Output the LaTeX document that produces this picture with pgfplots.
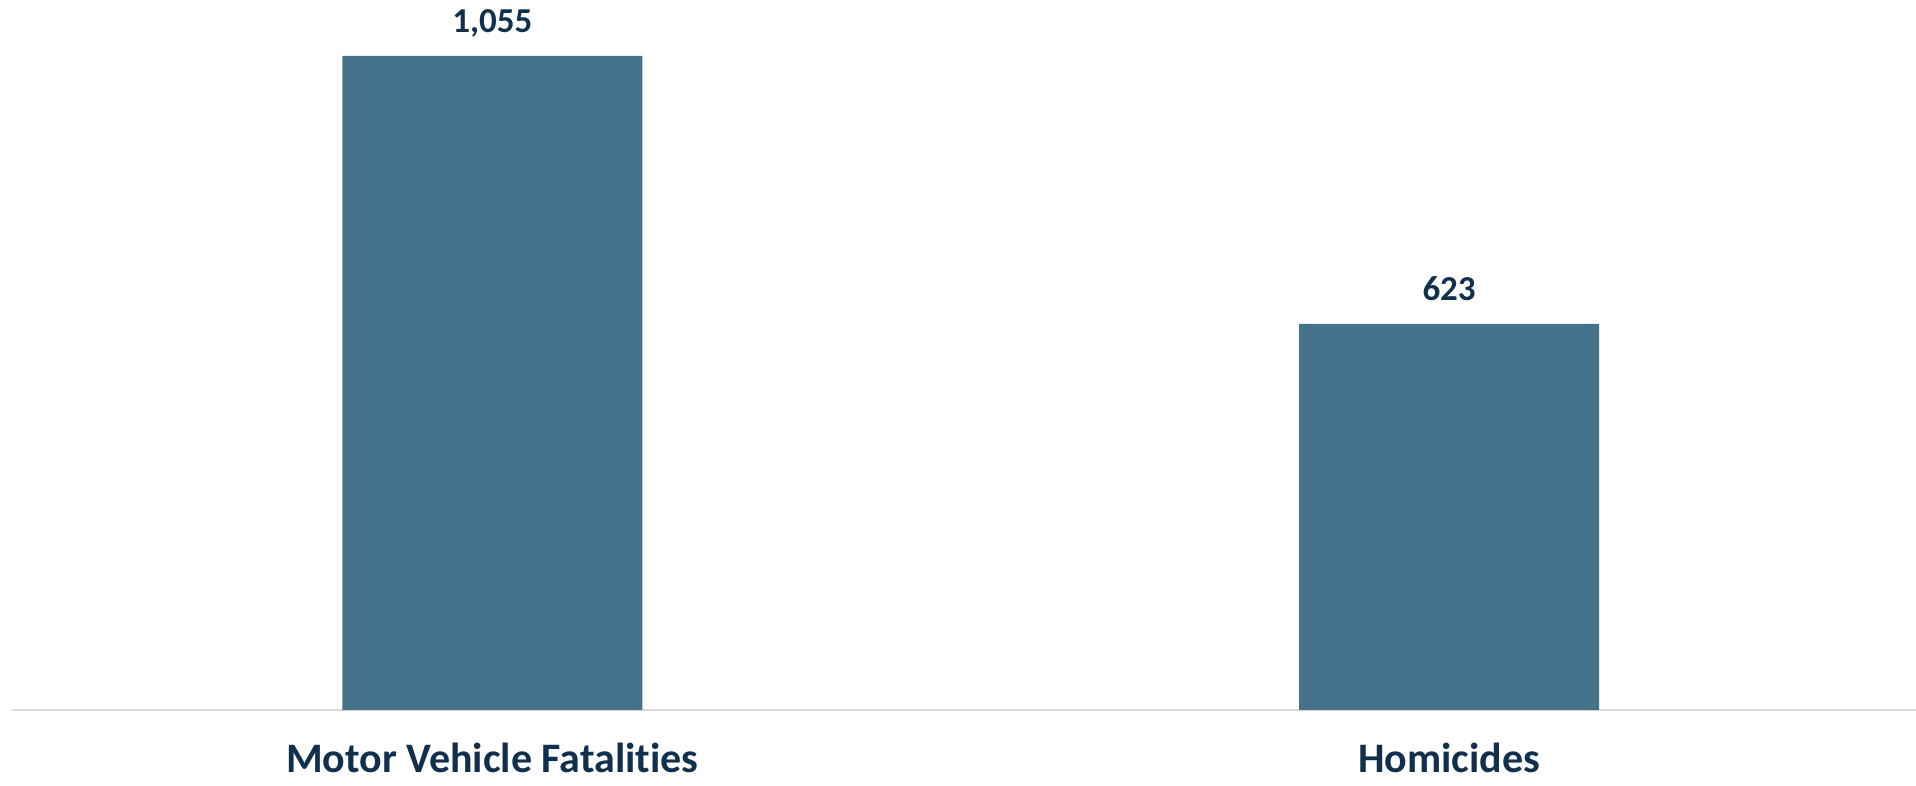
\documentclass[border=0pt]{standalone}
\usepackage{fontspec}
\setmainfont{Carlito}[RawFeature={-liga}]
\usepackage{pgfplots}
\pgfplotsset{compat=1.18}
\definecolor{barcol}{HTML}{44738B}
\definecolor{txtcol}{HTML}{10304E}
\definecolor{axcol}{HTML}{D9D9D9}

\begin{document}
\begin{tikzpicture}
\begin{axis}[
  scale only axis, width=952pt, height=355pt,
  xmin=-0.502, xmax=1.488, ymin=0, ymax=1145.3,
  hide y axis, axis x line*=bottom,
  x axis line style={draw=axcol, line width=1pt},
  xtick={0,1}, xticklabels={Motor Vehicle Fatalities, Homicides},
  major tick length=0pt,
  xticklabel style={anchor=base, inner sep=0pt, yshift=-31.5pt, text=txtcol,
    font=\fontsize{21}{24}\selectfont\bfseries},
  /pgf/number format/assume math mode=true,
  /pgf/number format/1000 sep={,},
  nodes near coords,
  every node near coord/.append style={anchor=base, yshift=11.5pt, text=txtcol,
    font=\fontsize{17.5}{20}\selectfont\bfseries},
]
\addplot[ybar, bar width=0.3135, fill=barcol, draw=none] coordinates {
  (0,1055)
  (1,623)
};
\coordinate (bl) at (rel axis cs:0,0);
\coordinate (tr) at (rel axis cs:1,1);
\end{axis}
\pgfresetboundingbox
\path[use as bounding box] ([xshift=-6pt,yshift=-38pt]bl) rectangle (tr);
\end{tikzpicture}
\end{document}
